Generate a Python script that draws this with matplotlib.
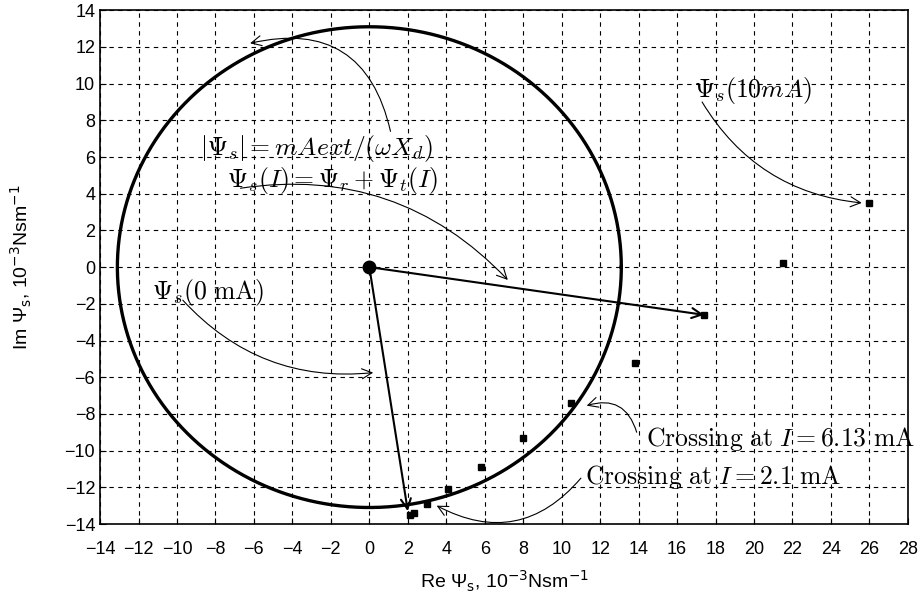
import numpy as np
import matplotlib
matplotlib.use("Agg")
import matplotlib.pyplot as plt

plt.rcParams['font.family'] = ['Liberation Sans', 'DejaVu Sans']
plt.rcParams['mathtext.fontset'] = 'cm'

# flux linkage points (Re, Im), 10^-3 Nsm^-1
re_psi = [2.1, 2.3, 3.0, 4.1, 5.8, 8.0, 10.5, 13.8, 17.4, 21.5, 26.0]
im_psi = [-13.5, -13.4, -12.9, -12.1, -10.9, -9.3, -7.4, -5.2, -2.6, 0.2, 3.5]
radius = 13.1
psi_r_end = (2.0, -13.3)
psi_10_end = (17.4, -2.6)

xticks = np.arange(-14, 29, 2)
yticks = np.arange(-14, 15, 2)

fig = plt.figure(figsize=(9.18, 6.03), dpi=100)
ax = fig.add_axes([0.109, 0.131, 0.880, 0.852])

t = np.linspace(0, 2*np.pi, 400)
ax.plot(radius*np.cos(t), radius*np.sin(t), color='black', lw=2.4)
ax.plot(re_psi, im_psi, 's', color='black', ms=5)
ax.plot([0], [0], 'o', color='black', ms=9)

for end in [psi_10_end, psi_r_end]:
    ax.annotate('', xy=end, xytext=(0, 0),
                arrowprops=dict(arrowstyle='->', color='black', lw=1.5,
                                mutation_scale=18, shrinkA=0, shrinkB=0))

fs = 18.5
def note(txt, tpos, start, end, rad, ha='center'):
    ax.text(tpos[0], tpos[1], txt, fontsize=fs, ha=ha, va='center')
    ax.annotate('', xy=end, xytext=start,
                arrowprops=dict(arrowstyle='->', color='black', lw=0.8,
                                mutation_scale=18, shrinkA=0, shrinkB=0,
                                connectionstyle='arc3,rad=%s' % rad))

note(r'$|\Psi_s| = mAext/(\omega X_d)$', (-2.75, 6.45), (1.1, 7.4), (-6.2, 12.2), 0.5)
note(r'$\Psi_s(I) = \Psi_r + \Psi_t(I)$', (-1.9, 4.7), (-6.7, 4.3), (7.2, -0.7), -0.26)
note(r'$\Psi_s(10mA)$', (19.95, 9.6), (17.3, 9.0), (25.6, 3.5), 0.25)
note(r'$\Psi_s(0\ \mathrm{mA})$', (-8.4, -1.4), (-9.7, -1.8), (0.2, -5.75), 0.25)
note(r'$\mathrm{Crossing\ at\ }I\mathrm{=6.13\ mA}$', (14.4, -9.35), (13.9, -9.0), (11.3, -7.55), 0.5, ha='left')
note(r'$\mathrm{Crossing\ at\ }I\mathrm{=2.1\ mA}$', (11.2, -11.45), (11.0, -11.5), (3.5, -13.0), -0.4, ha='left')

ax.set_xlim(-14, 28)
ax.set_ylim(-14, 14)
ax.set_xticks(xticks)
ax.set_yticks(yticks)
ax.set_xticklabels([str(v).replace('-', '\u2212') for v in xticks])
ax.set_yticklabels([str(v).replace('-', '\u2212') for v in yticks])
ax.tick_params(labelsize=13, direction='in', length=4)
ax.tick_params(axis='x', pad=12)
ax.grid(True, color='black', linestyle=(0, (4, 4)), lw=0.8)
for s in ax.spines.values():
    s.set_linewidth(1.2)

ax.set_xlabel('Re \u03a8$_\\mathrm{s}$, 10$^{-3}$Nsm$^{-1}$', fontsize=14,
              labelpad=8, math_fontfamily='dejavusans')
ax.set_ylabel('Im \u03a8$_\\mathrm{s}$, 10$^{-3}$Nsm$^{-1}$', fontsize=14,
              labelpad=22, math_fontfamily='dejavusans')

fig.savefig('out.png', dpi=100)
